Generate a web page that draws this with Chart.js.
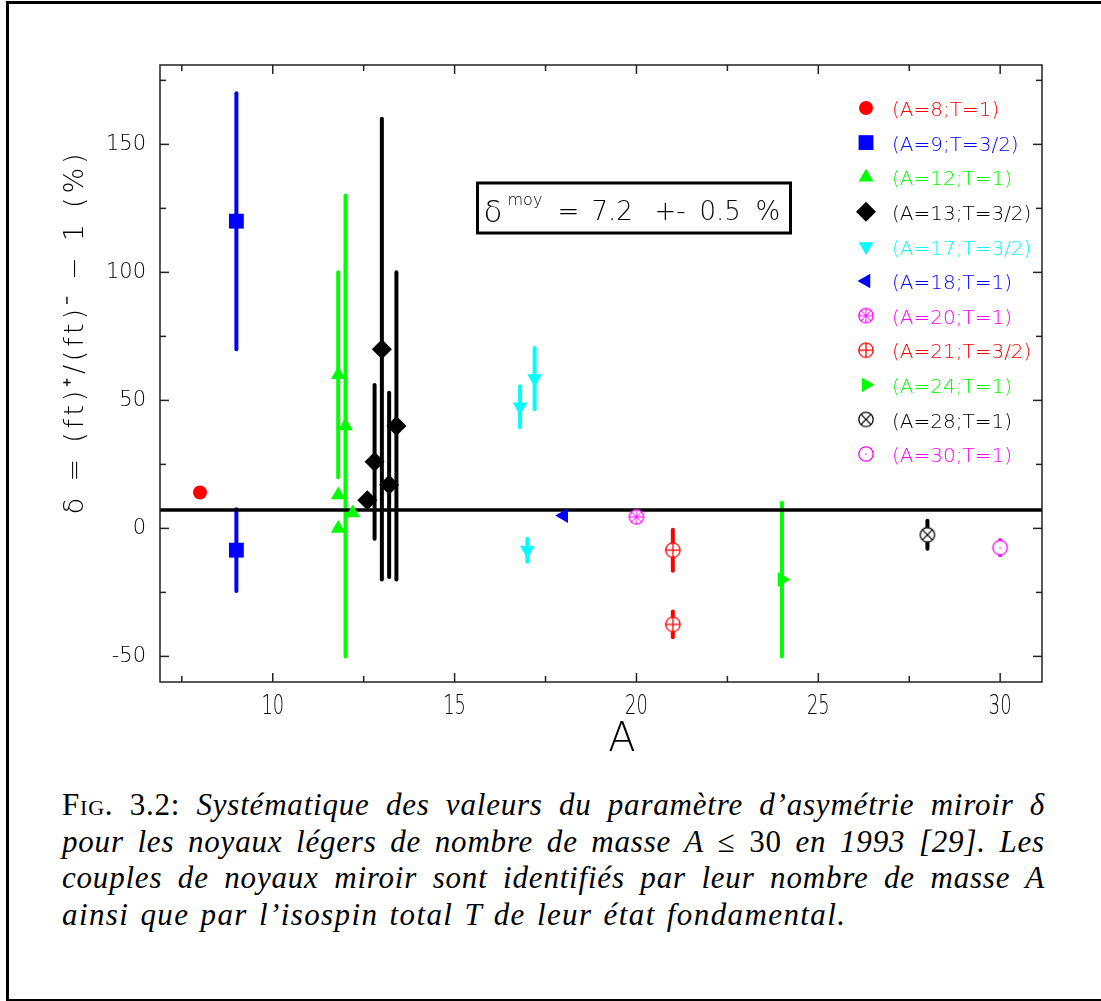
<!DOCTYPE html>
<html>
<head>
<meta charset="utf-8">
<script src="https://cdn.jsdelivr.net/npm/chart.js@4.4.1/dist/chart.umd.min.js"></script>
<style>
  html, body { margin: 0; padding: 0; background: #fff; }
  #page { position: relative; width: 1101px; height: 1001px; overflow: hidden; }
  #frame { position: absolute; left: 6px; top: 1px; width: 1120px; height: 995px; border: 3px solid #000; }
  #wrap { position: absolute; left: 0; top: 0; width: 1101px; height: 780px; }
  #caption { position: absolute; left: 62px; top: 787px; width: 983px;
    font-family: "Liberation Serif", "DejaVu Serif", serif; font-size: 31px; line-height: 36.7px;
    letter-spacing: 0.8px; color: #000; }
  #caption .ln { text-align: justify; text-align-last: justify; }
  #caption .last { text-align: left; text-align-last: left; letter-spacing: 1.4px; word-spacing: 2px; }
  #caption i { font-style: italic; }
  .sc { font-variant: small-caps; }
</style>
</head>
<body>
<div id="page">
  <div id="frame"></div>
  <div id="wrap"><canvas id="chart"></canvas></div>
  <div id="caption">
    <div class="ln"><span class="sc">Fig.</span> 3.2: <i>Systématique des valeurs du paramètre d’asymétrie miroir δ</i></div>
    <div class="ln"><i>pour les noyaux légers de nombre de masse A</i> ≤ 30 <i>en 1993 [29]. Les</i></div>
    <div class="ln"><i>couples de noyaux miroir sont identifiés par leur nombre de masse A</i></div>
    <div class="ln last"><i>ainsi que par l’isospin total T de leur état fondamental.</i></div>
  </div>
</div>
<script>
// ---------- DATA ----------
const seriesNames = ["(A=8;T=1)", "(A=9;T=3/2)", "(A=12;T=1)", "(A=13;T=3/2)", "(A=17;T=3/2)",
  "(A=18;T=1)", "(A=20;T=1)", "(A=21;T=3/2)", "(A=24;T=1)", "(A=28;T=1)", "(A=30;T=1)"];
// mass number (points of a same A are spread a little for readability)
const seriesA = [[8.0], [9.0, 9.0], [11.8, 11.8, 11.8, 12.0, 12.2], [12.6, 12.8, 13.0, 13.2, 13.4],
  [16.8, 17.2, 17.0], [18.0], [20.0], [21.0, 21.0], [24.0], [28.0], [30.0]];
const seriesDelta = [[14], [120, -8.5], [60, 13, 0, 40, 6], [11, 26, 70, 17, 40],
  [47.5, 58.5, -8.5], [5], [4.5], [-8.5, -37.5], [-20], [-2.5], [-7.5]];
const seriesErr = [[0], [50, 16], [40, 0, 0, 90, 0], [0, 30, 90, 36, 60],
  [8, 12, 4.5], [0], [0], [8, 5], [30], [5.5], [3]];
const meanDelta = 7.2;
const meanErr = 0.5;
const xRange = [6.9, 31.15];
const yRange = [-60, 181];

// ---------- STYLE ----------
const seriesColors = ["#ff0000", "#0000ff", "#00ff00", "#000000", "#00ffff", "#0000ff",
  "#ff00ff", "#ff0000", "#00ff00", "#000000", "#ff00ff"];

function symbolCanvas(kind, color) {
  const c = document.createElement("canvas");
  c.width = 18; c.height = 18;
  const g = c.getContext("2d");
  const cx = 9, cy = 9, r = 7.2;
  g.strokeStyle = color; g.lineWidth = 1.3;
  g.fillStyle = "#fff";
  g.beginPath(); g.arc(cx, cy, r, 0, Math.PI * 2); g.fill(); g.stroke();
  g.fillStyle = color;
  const spoke = (ang) => {
    g.beginPath();
    g.moveTo(cx - Math.cos(ang) * r, cy - Math.sin(ang) * r);
    g.lineTo(cx + Math.cos(ang) * r, cy + Math.sin(ang) * r);
    g.stroke();
  };
  if (kind === "plus") { spoke(0); spoke(Math.PI / 2); }
  if (kind === "cross") { spoke(Math.PI / 4); spoke(-Math.PI / 4); }
  if (kind === "star") { g.lineWidth = 1; [0, 1, 2, 3].forEach(k => spoke(k * Math.PI / 4)); }
  if (kind === "dot") { g.beginPath(); g.arc(cx, cy, 0.8, 0, Math.PI * 2); g.fill(); }
  return c;
}

const seriesMarker = [
  { style: "circle", radius: 7, rot: 0 },
  { style: "rect", radius: 10.5, rot: 0 },
  { style: "triangle", radius: 8.5, rot: 0 },
  { style: "rectRot", radius: 10, rot: 0 },
  { style: "triangle", radius: 8.5, rot: 180 },
  { style: "triangle", radius: 8.5, rot: 270 },
  { style: symbolCanvas("star", "#ff00ff"), radius: 8, rot: 0 },
  { style: symbolCanvas("plus", "#ff0000"), radius: 8, rot: 0 },
  { style: "triangle", radius: 8.5, rot: 90 },
  { style: symbolCanvas("cross", "#000000"), radius: 8, rot: 0 },
  { style: symbolCanvas("dot", "#ff00ff"), radius: 8, rot: 0 },
];

const datasets = seriesNames.map((name, s) => ({
  label: name,
  data: seriesA[s].map((a, i) => ({ x: a, y: seriesDelta[s][i] })),
  pointStyle: seriesMarker[s].style,
  pointRadius: seriesMarker[s].radius,
  pointRotation: seriesMarker[s].rot,
  backgroundColor: seriesColors[s],
  borderColor: seriesColors[s],
  borderWidth: 0,
  showLine: false,
}));

// ---------- PLUGINS ----------
// error bars + mean line, under the markers
const errorBars = {
  id: "errorBars",
  beforeDatasetsDraw(chart) {
    const { ctx, chartArea: area, scales: { x, y } } = chart;
    ctx.save();
    ctx.lineCap = "round";
    ctx.lineWidth = 4;
    seriesA.forEach((xs, s) => {
      ctx.strokeStyle = seriesColors[s];
      xs.forEach((a, i) => {
        const e = seriesErr[s][i];
        if (!e) return;
        const px = x.getPixelForValue(a);
        ctx.beginPath();
        ctx.moveTo(px, y.getPixelForValue(seriesDelta[s][i] + e));
        ctx.lineTo(px, y.getPixelForValue(seriesDelta[s][i] - e));
        ctx.stroke();
      });
    });
    // mean value
    const py = y.getPixelForValue(meanDelta);
    ctx.lineCap = "butt";
    ctx.lineWidth = 3.5;
    ctx.strokeStyle = "#000";
    ctx.beginPath();
    ctx.moveTo(area.left, py);
    ctx.lineTo(area.right, py);
    ctx.stroke();
    ctx.restore();
  },
};

// frame with inward ticks on the four sides, condensed x labels
const frameTicks = {
  id: "frameTicks",
  beforeDatasetsDraw(chart) {
    const { ctx, chartArea: a, scales: { x, y } } = chart;
    ctx.save();
    ctx.strokeStyle = "#222";
    ctx.lineWidth = 1.5;
    ctx.strokeRect(a.left, a.top, a.right - a.left, a.bottom - a.top);
    const seg = (x0, y0, x1, y1) => { ctx.beginPath(); ctx.moveTo(x0, y0); ctx.lineTo(x1, y1); ctx.stroke(); };
    ctx.fillStyle = "#000";
    ctx.font = '200 27px "DejaVu Sans"';
    ctx.textAlign = "center";
    ctx.textBaseline = "middle";
    x.ticks.forEach(t => {
      const px = x.getPixelForValue(t.value);
      const major = t.value % 5 === 0;
      const len = major ? 9 : 6;
      seg(px, a.bottom, px, a.bottom - len);
      seg(px, a.top, px, a.top + len);
      if (major) {
        ctx.save();
        ctx.translate(px, a.bottom + 25);
        ctx.scale(0.66, 1);
        ctx.fillText(String(t.value), 0, 0);
        ctx.restore();
      }
    });
    y.ticks.forEach(t => {
      const py = y.getPixelForValue(t.value);
      const len = t.value % 50 === 0 ? 9 : 6;
      seg(a.left, py, a.left + len, py);
      seg(a.right, py, a.right - len, py);
    });
    ctx.restore();
  },
};

// titles, legend, mean value box
const decorations = {
  id: "decorations",
  afterDraw(chart) {
    const { ctx, chartArea: a } = chart;
    ctx.save();
    ctx.fillStyle = "#000";

    // y title
    ctx.save();
    ctx.translate(76, 332);
    ctx.rotate(-Math.PI / 2);
    ctx.font = '200 27px "DejaVu Sans"';
    ctx.letterSpacing = "3.8px";
    ctx.textAlign = "center";
    ctx.textBaseline = "middle";
    ctx.fillText("δ = (ft)⁺/(ft)⁻ − 1 (%)", 0, 0);
    ctx.restore();

    // x title
    ctx.font = '200 40px "DejaVu Sans"';
    ctx.textAlign = "center";
    ctx.textBaseline = "middle";
    ctx.fillText("A", (a.left + a.right) / 2 + 21, 741);

    // legend
    const lx = a.right - 176, ly = a.top + 43, step = 34.6;
    seriesNames.forEach((name, s) => {
      const py = ly + s * step;
      ctx.fillStyle = seriesColors[s];
      ctx.strokeStyle = seriesColors[s];
      const m = seriesMarker[s];
      Chart.helpers.drawPoint(ctx, { pointStyle: m.style, radius: m.radius, rotation: m.rot, borderWidth: 0 }, lx, py);
      ctx.font = '200 20px "DejaVu Sans"';
      ctx.textAlign = "left";
      ctx.textBaseline = "middle";
      ctx.fillText(name, lx + 26, py + 3);
    });

    // mean value box
    const bx = 477.5, by = 183;
    ctx.strokeStyle = "#000";
    ctx.fillStyle = "#000";
    ctx.lineWidth = 3;
    ctx.strokeRect(bx, by, 313, 50);
    ctx.textAlign = "left";
    ctx.textBaseline = "alphabetic";
    ctx.font = '200 31px "DejaVu Sans"';
    ctx.fillText("δ", bx + 6, by + 39);
    ctx.font = '200 16px "DejaVu Sans"';
    ctx.fillText("moy", bx + 30, by + 22);
    ctx.font = '200 26px "DejaVu Sans"';
    const parts = [["=", 80], [meanDelta.toFixed(1), 114], ["+-", 177], [meanErr.toFixed(1), 222], ["%", 278]];
    parts.forEach(([t, dx]) => ctx.fillText(t, bx + dx, by + 37));
    ctx.restore();
  },
};

// ---------- CHART ----------
new Chart(document.getElementById("chart"), {
  type: "scatter",
  data: { datasets },
  options: {
    responsive: true,
    maintainAspectRatio: false,
    animation: false,
    events: [],
    layout: { padding: { top: 65, right: 59, left: 0, bottom: 0 } },
    plugins: { legend: { display: false }, tooltip: { enabled: false } },
    scales: {
      x: {
        type: "linear",
        min: xRange[0],
        max: xRange[1],
        grid: { display: false, drawTicks: false },
        border: { display: false },
        ticks: {
          stepSize: 2.5,
          includeBounds: false,
          autoSkip: false,
          maxRotation: 0,
          display: false,
        },
        afterFit: (s) => { s.height = 98; },
      },
      y: {
        type: "linear",
        min: yRange[0],
        max: yRange[1],
        grid: { display: false, drawTicks: false },
        border: { display: false },
        ticks: {
          stepSize: 25,
          includeBounds: false,
          autoSkip: false,
          padding: 14,
          color: "#000",
          font: { family: '"DejaVu Sans"', size: 21, weight: 200 },
          callback: (v) => (v % 50 === 0 ? v : ""),
        },
        afterFit: (s) => { s.width = 160; },
      },
    },
  },
  plugins: [errorBars, frameTicks, decorations],
});
</script>
</body>
</html>
